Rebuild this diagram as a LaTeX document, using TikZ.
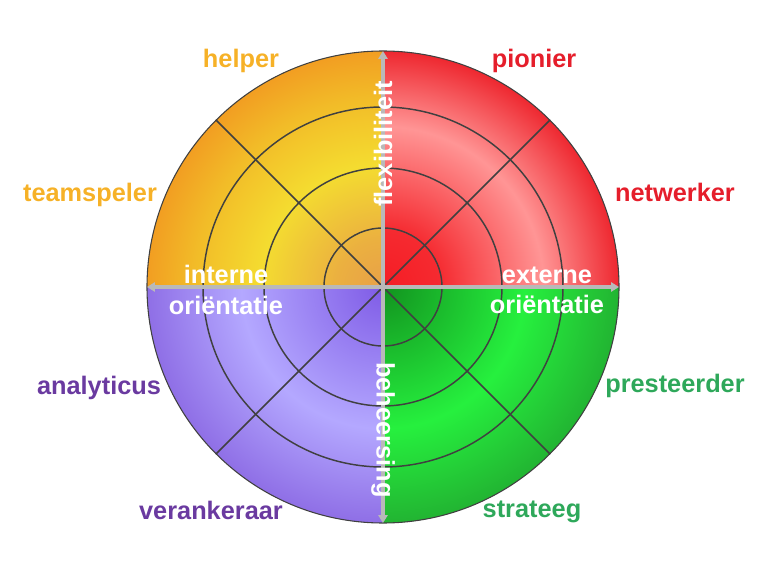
\documentclass[tikz,border=0pt]{standalone}
\usepackage{fontspec}
\setmainfont{Liberation Sans}
\usepackage{xcolor}
\usepackage{tikz}
\usetikzlibrary{arrows.meta, positioning, calc}

% kleuren van de woorden
\definecolor{oranjetxt}{HTML}{F6B127}
\definecolor{roodtxt}{HTML}{E51E2B}
\definecolor{paarstxt}{HTML}{6A3AA0}
\definecolor{groentxt}{HTML}{2EA85A}

% kleuren van de kwadranten
\definecolor{oranjeA}{HTML}{E8A048}
\definecolor{oranjeB}{HTML}{EBB040}
\definecolor{oranjeC}{HTML}{F4DC30}
\definecolor{oranjeD}{HTML}{F2BC28}
\definecolor{oranjeE}{HTML}{F29E22}
\definecolor{roodA}{HTML}{F51C24}
\definecolor{roodB}{HTML}{F52A30}
\definecolor{roodC}{HTML}{FF9595}
\definecolor{roodD}{HTML}{EE2830}
\definecolor{paarsA}{HTML}{7F5BE6}
\definecolor{paarsB}{HTML}{B4A8FF}
\definecolor{paarsC}{HTML}{8F6FE6}
\definecolor{groenA}{HTML}{12931F}
\definecolor{groenB}{HTML}{26F03E}
\definecolor{groenC}{HTML}{22B432}

\pgfdeclareradialshading{oranjering}{\pgfpoint{0bp}{0bp}}{color(0bp)=(oranjeA); color(5bp)=(oranjeB); color(13bp)=(oranjeC); color(20bp)=(oranjeD); color(25bp)=(oranjeE); color(50bp)=(oranjeE)}
\pgfdeclareradialshading{roodring}{\pgfpoint{0bp}{0bp}}{color(0bp)=(roodA); color(6bp)=(roodB); color(17bp)=(roodC); color(25bp)=(roodD); color(50bp)=(roodD)}
\pgfdeclareradialshading{paarsring}{\pgfpoint{0bp}{0bp}}{color(0bp)=(paarsA); color(15bp)=(paarsB); color(25bp)=(paarsC); color(50bp)=(paarsC)}
\pgfdeclareradialshading{groenring}{\pgfpoint{0bp}{0bp}}{color(0bp)=(groenA); color(15bp)=(groenB); color(25bp)=(groenC); color(50bp)=(groenC)}

\tikzset{
    woord/.style={font=\fontsize{19}{22}\selectfont\bfseries, anchor=base},
    witwoord/.style={woord, white},
    ring/.style={black!75, line width=1.1pt},
    as/.style={gray!55, line width=3pt, arrows={Triangle[length=6pt,width=7pt]-Triangle[length=6pt,width=7pt]}},
}

\begin{document}
\begin{tikzpicture}[x=0.75pt, y=0.75pt]
    \def\R{236}
    \useasboundingbox (-383,-288) rectangle (385,287);
    \coordinate (m) at (0,0);
    \coordinate (boven) at (0,\R);
    \coordinate (onder) at (0,-\R);
    \coordinate (links) at (-\R,0);
    \coordinate (rechts) at (\R,0);

    % kwadranten
    \begin{scope}
        \clip (m) -- (boven) arc (90:180:\R) -- cycle;
        \shade[shading=oranjering] (m) circle (\R);
    \end{scope}
    \begin{scope}
        \clip (m) -- (rechts) arc (0:90:\R) -- cycle;
        \shade[shading=roodring] (m) circle (\R);
    \end{scope}
    \begin{scope}
        \clip (m) -- (links) arc (180:270:\R) -- cycle;
        \shade[shading=paarsring] (m) circle (\R);
    \end{scope}
    \begin{scope}
        \clip (m) -- (onder) arc (270:360:\R) -- cycle;
        \shade[shading=groenring] (m) circle (\R);
    \end{scope}

    % ringen en diagonalen
    \foreach \r in {59, 119, 180}
        \draw[ring] (m) circle (\r);
    \foreach \a in {45, 135, 225, 315}
        \draw[ring] (m) -- (\a:\R);
    \draw[gray!50!black, line width=0.8pt] (m) circle (\R);

    % assen
    \draw[as] (links) -- (rechts);
    \draw[as] (onder) -- (boven);

    % woorden buiten
    \node[woord, oranjetxt] (helper) at (-142, 219) {helper};
    \node[woord, roodtxt] (pionier) at (151, 219) {pionier};
    \node[woord, oranjetxt] (teamspeler) at (-293, 85) {teamspeler};
    \node[woord, roodtxt] (netwerker) at (292, 85) {netwerker};
    \node[woord, paarstxt] (analyticus) at (-284, -107) {analyticus};
    \node[woord, groentxt] (presteerder) at (292, -105) {presteerder};
    \node[woord, paarstxt] (verankeraar) at (-172, -232) {verankeraar};
    \node[woord, groentxt] (strateeg) at (149, -230) {strateeg};

    % woorden binnen
    \node[witwoord] (interne) at (-157, 4) {interne};
    \node[witwoord] (orientatieL) at (-157, -27) {oriëntatie};
    \node[witwoord] (externe) at (164, 4) {externe};
    \node[witwoord] (orientatieR) at (164, -26) {oriëntatie};
    \node[witwoord, anchor=center, rotate=90] (flex) at (0, 143) {flexibiliteit};
    \node[witwoord, anchor=center, rotate=-90] (beheer) at (0, -143) {beheersing};
\end{tikzpicture}
\end{document}
